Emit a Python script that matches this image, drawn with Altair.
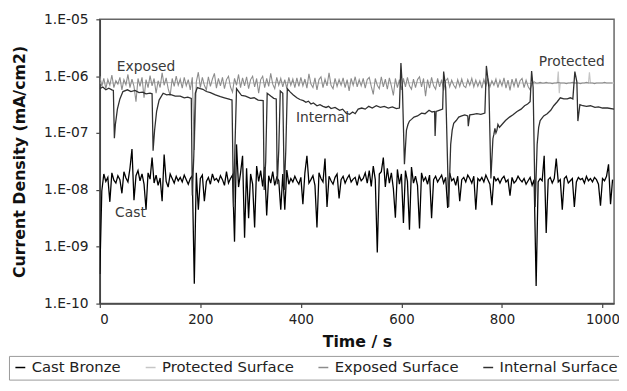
import altair as alt
import pandas as pd

# ---------------- data (log10 of current density, mA/cm2) ----------------
SERIES = ["Cast Bronze", "Protected Surface", "Exposed Surface", "Internal Surface"]
COLORS = ["#000000", "#c6c6c6", "#8c8c8c", "#303030"]
SAMPLE_STEP = 4  # seconds between samples of the two noisy records

cast_log = [
    -9.48, -8.02, -7.72, -7.85, -7.78, -8.21, -7.70, -7.83, -7.88, -7.75,
    -7.82, -8.06, -7.68, -7.79, -7.86, -7.62, -7.28, -8.18, -7.75, -7.66,
    -7.84, -7.72, -7.90, -8.35, -7.70, -7.81, -7.43, -7.88, -7.74, -7.92,
    -7.79, -8.20, -7.38, -7.85, -7.95, -7.72, -7.80, -7.88, -7.76, -7.84,
    -7.78, -7.86, -7.74, -7.82, -7.90, -7.80, -7.75, -9.65, -7.70, -8.35,
    -7.80, -7.74, -8.20, -7.85, -7.78, -7.90, -7.72, -7.83, -7.80, -7.86,
    -7.75, -7.82, -7.92, -7.68, -7.88, -7.80, -7.74, -8.91, -7.20, -7.95,
    -7.70, -7.40, -8.84, -7.62, -8.50, -7.72, -7.90, -8.66, -7.58, -7.85,
    -7.66, -7.94, -7.60, -8.45, -7.75, -7.88, -7.68, -7.92, -7.78, -7.84,
    -8.35, -7.72, -8.35, -7.65, -7.90, -7.80, -7.86, -7.76, -7.84, -7.90,
    -7.78, -8.25, -7.70, -7.40, -7.88, -7.82, -7.75, -7.92, -8.66, -7.70,
    -7.80, -7.86, -7.45, -8.30, -7.76, -7.84, -7.90, -7.78, -7.72, -8.15,
    -7.82, -7.76, -7.88, -7.80, -7.74, -7.86, -7.81, -7.78, -7.92, -7.75,
    -7.84, -7.80, -7.70, -7.88, -7.66, -7.94, -7.58, -7.82, -9.10, -7.72,
    -7.68, -7.43, -7.95, -7.62, -7.88, -7.70, -7.98, -8.49, -7.64, -7.90,
    -7.72, -8.58, -7.66, -7.85, -8.70, -7.60, -7.88, -7.76, -7.92, -8.68,
    -7.70, -7.84, -7.78, -7.90, -7.74, -8.50, -7.82, -7.76, -7.86, -7.80,
    -7.74, -7.88, -7.78, -8.32, -7.70, -7.84, -7.80, -7.92, -7.76, -8.20,
    -7.82, -7.78, -7.86, -7.74, -7.80, -7.88, -7.76, -8.35, -7.80, -7.84,
    -7.78, -7.86, -7.74, -7.82, -7.90, -8.27, -7.76, -7.84, -7.80, -7.88,
    -7.80, -7.76, -7.86, -7.82, -8.10, -7.78, -7.88, -7.84, -7.76, -7.82,
    -7.86, -7.80, -7.90, -7.84, -7.78, -7.92, -7.82, -9.69, -7.86, -7.80,
    -7.84, -7.40, -8.76, -7.82, -7.78, -7.88, -7.80, -7.45, -7.86, -7.82,
    -8.35, -7.80, -7.76, -7.88, -7.84, -7.80, -8.30, -7.86, -7.78, -7.82,
    -7.80, -7.88, -7.76, -7.84, -7.80, -7.86, -7.78, -7.82, -7.90, -8.28,
    -7.80, -7.84, -7.76, -7.55, -8.25, -7.82,
]

exposed_log = [
    -6.00, -6.18, -6.04, -6.22, -6.06, -6.16, -5.98, -6.20, -6.08, -6.14,
    -6.02, -6.24, -6.06, -6.15, -5.97, -6.20, -6.05, -6.18, -6.45, -6.04,
    -6.18, -6.02, -6.38, -6.06, -6.20, -5.99, -6.17, -6.04, -6.30, -6.08,
    -6.20, -5.94, -6.16, -6.03, -6.22, -6.34, -6.04, -6.18, -6.00, -6.16,
    -6.05, -6.21, -6.02, -6.17, -6.06, -6.24, -6.02, -7.30, -6.10, -5.93,
    -6.20, -6.02, -6.16, -6.24, -6.01, -6.18, -6.05, -5.95, -6.21, -6.04,
    -6.17, -6.02, -6.22, -6.06, -6.00, -6.19, -6.28, -6.04, -6.16, -5.97,
    -6.20, -6.03, -6.17, -6.01, -6.22, -6.06, -6.00, -6.19, -6.04, -6.30,
    -6.06, -6.00, -6.20, -6.04, -6.18, -5.95, -6.14, -6.22, -6.02, -6.16,
    -6.04, -6.19, -6.06, -6.22, -6.02, -6.16, -6.05, -6.20, -6.03, -6.18,
    -6.02, -6.17, -6.05, -6.21, -5.96, -6.14, -6.20, -6.03, -6.24, -6.06,
    -6.01, -6.20, -6.05, -6.17, -5.94, -6.16, -6.22, -6.04, -6.18, -6.06,
    -6.16, -6.03, -6.20, -6.06, -6.26, -6.04, -6.16, -6.01, -6.19, -6.06,
    -6.17, -6.04, -6.21, -6.06, -6.02, -6.18, -6.32, -6.04, -6.16, -6.22,
    -6.01, -6.19, -6.05, -6.23, -6.03, -6.17, -6.34, -6.04, -6.20, -6.06,
    -6.24, -6.04, -6.19, -6.02, -6.17, -6.23, -6.05, -6.20, -6.06, -6.01,
    -6.19, -6.04, -6.35, -6.06, -6.21, -6.02, -6.17, -6.23, -6.04, -6.19,
    -6.06, -6.25, -6.08, -6.04, -6.19, -6.07, -6.16, -6.21, -6.06, -6.18,
    -6.05, -6.17, -6.20, -6.06, -6.16, -6.04, -6.19, -6.07, -6.18, -6.08,
    -6.21, -6.06, -6.17, -6.04, -6.19, -6.08, -6.16, -6.05, -6.20, -6.07,
    -6.17, -6.03, -6.21, -6.07, -6.25, -6.05, -6.18, -6.04, -6.20, -6.08,
    -6.04, -6.20, -6.07, -6.18, -6.24, -6.12, -6.10, -6.12, -6.12, -6.11,
    -6.12, -6.12, -6.11, -6.12, -6.12, -6.13, -6.12, -6.12, -6.11, -6.12,
    -6.12, -6.12, -6.13, -6.12, -6.12, -6.11, -6.12, -6.12, -6.12, -6.13,
    -6.12, -6.12, -6.11, -6.12, -6.12, -6.12, -6.13, -6.12, -6.12, -6.12,
    -6.12, -6.11, -6.12, -6.12, -6.12, -6.12,
]

protected_time = [0, 60, 120, 180, 240, 300, 360, 420, 480, 540, 600, 660, 720,
                  780, 840, 870, 900, 910, 912, 914, 916, 940, 972, 974, 976, 1000, 1023]
protected_log = [-6.12, -6.12, -6.11, -6.12, -6.12, -6.12, -6.11, -6.12, -6.12,
                 -6.12, -6.12, -6.11, -6.12, -6.12, -6.12, -6.13, -6.12, -6.12,
                 -5.92, -6.30, -6.12, -6.12, -6.12, -5.93, -6.12, -6.12, -6.12]

internal_pts = [
    (0, -6.22), (6, -6.19), (12, -6.24), (18, -6.21), (24, -6.24), (27, -6.25), (29, -7.09),
    (31, -6.85), (35, -6.58), (40, -6.40), (46, -6.27), (55, -6.24), (62, -6.27), (70, -6.25),
    (78, -6.29), (85, -6.28), (92, -6.31), (100, -6.30), (104, -6.31), (106, -7.31), (109, -6.95),
    (113, -6.62), (118, -6.42), (126, -6.30), (133, -6.33), (140, -6.32), (150, -6.35), (160, -6.35),
    (168, -6.38), (175, -6.37), (182, -6.39), (184, -8.10), (187, -7.40), (190, -6.30), (194, -6.20),
    (200, -6.22), (205, -6.23), (212, -6.27), (220, -6.29), (230, -6.33), (240, -6.36), (248, -6.38),
    (259, -6.41), (263, -6.42), (266, -8.30), (269, -7.20), (272, -6.22), (277, -6.28), (282, -6.34),
    (290, -6.35), (300, -6.39), (307, -6.38), (315, -6.42), (325, -6.43), (327, -8.00), (330, -7.50),
    (333, -6.30), (340, -6.35), (346, -6.39), (351, -6.40), (353, -7.90), (356, -7.30), (359, -6.26),
    (364, -6.30), (367, -8.00), (370, -7.30), (373, -6.22), (379, -6.28), (385, -6.33), (392, -6.38),
    (398, -6.41), (405, -6.43), (410, -6.46), (415, -6.44), (420, -6.49), (425, -6.47), (432, -6.52),
    (438, -6.50), (444, -6.53), (450, -6.55), (455, -6.53), (460, -6.57), (468, -6.55), (477, -6.60),
    (483, -6.58), (490, -6.65), (497, -6.67), (503, -6.63), (508, -6.66), (514, -6.58), (521, -6.56),
    (528, -6.58), (535, -6.53), (542, -6.56), (550, -6.52), (558, -6.55), (566, -6.53), (574, -6.56),
    (582, -6.54), (590, -6.57), (596, -6.56), (599, -5.77), (602, -6.22), (606, -7.55), (610, -6.95),
    (613, -6.85), (616, -6.79), (620, -6.76), (625, -6.72), (632, -6.70), (640, -6.65), (647, -6.66),
    (655, -6.60), (661, -6.63), (666, -6.62), (667, -7.05), (669, -6.62), (675, -6.60), (682, -6.58),
    (684, -5.92), (688, -6.20), (694, -8.30), (698, -7.20), (701, -6.95), (704, -6.83), (709, -6.78),
    (714, -6.72), (720, -6.70), (726, -6.68), (732, -6.70), (733, -6.88), (736, -6.68), (743, -6.67),
    (750, -6.66), (758, -6.67), (766, -6.65), (769, -5.82), (774, -6.20), (778, -7.80), (782, -7.10),
    (784, -7.02), (786, -6.92), (788, -7.00), (790, -6.95), (792, -6.85), (795, -6.90), (800, -6.85),
    (807, -6.78), (815, -6.72), (822, -6.68), (830, -6.62), (838, -6.58), (845, -6.52), (851, -6.49),
    (856, -6.45), (859, -5.91), (862, -6.20), (866, -8.30), (870, -7.20), (873, -6.90), (876, -6.78),
    (883, -6.70), (890, -6.66), (897, -6.60), (903, -6.52), (910, -6.45), (916, -6.38), (923, -6.40),
    (930, -6.40), (936, -6.38), (941, -6.40), (945, -5.92), (949, -6.10), (951, -6.79), (955, -6.50),
    (961, -6.52), (968, -6.53), (976, -6.52), (985, -6.55), (992, -6.54), (1000, -6.56), (1010, -6.56),
    (1023, -6.58),
]

y_ticks = [1e-10, 1e-9, 1e-8, 1e-7, 1e-6, 1e-5]
x_ticks = [0, 200, 400, 600, 800, 1000]

note_text = ["Exposed", "Internal", "Protected", "Cast"]
note_time = [92, 443, 939, 61]
note_log = [-5.84, -6.74, -5.75, -8.40]

# ---------------- tables ----------------
rows = []
for i, v in enumerate(cast_log):
    rows.append({"series": "Cast Bronze", "t": i * SAMPLE_STEP, "j": 10 ** v})
for t, v in zip(protected_time, protected_log):
    rows.append({"series": "Protected Surface", "t": t, "j": 10 ** v})
for i, v in enumerate(exposed_log):
    rows.append({"series": "Exposed Surface", "t": i * SAMPLE_STEP, "j": 10 ** v})
for t, v in internal_pts:
    rows.append({"series": "Internal Surface", "t": t, "j": 10 ** v})
df = pd.DataFrame(rows)

notes = pd.DataFrame({"label": note_text, "t": note_time,
                      "j": [10 ** v for v in note_log]})

FONT = "DejaVu Sans"

x_enc = alt.X(
    "t:Q",
    scale=alt.Scale(domain=[0, 1023], nice=False, zero=False),
    axis=alt.Axis(values=x_ticks, title="Time / s", format="d",
                  tickSize=4, labelPadding=5, titleY=30, labelFontSize=13.5),
)
y_enc = alt.Y(
    "j:Q",
    scale=alt.Scale(type="log", domain=[1e-10, 1e-5], nice=False),
    axis=alt.Axis(
        values=y_ticks,
        labelExpr="'1.E-' + (round(-log(datum.value)/LN10) < 10 ? '0' : '') + round(-log(datum.value)/LN10)",
        title="Current Density (mA/cm2)", tickSize=4, labelPadding=8,
        titleX=-73, titleY=144,
    ),
)
color_enc = alt.Color(
    "series:N",
    scale=alt.Scale(domain=SERIES, range=COLORS),
    legend=alt.Legend(
        title=None, orient="none", direction="horizontal", columns=4,
        legendX=-92, legendY=341, symbolType="stroke", symbolSize=100,
        symbolStrokeWidth=1.5, strokeColor="#999999", fillColor="#ffffff",
        padding=4, columnPadding=21, labelFont=FONT, labelFontSize=15,
        labelColor="#222222", labelLimit=300,
    ),
)

widths = {"Cast Bronze": 1.3, "Protected Surface": 1.2,
          "Exposed Surface": 1.1, "Internal Surface": 1.3}

layers = []
for s in SERIES:
    layers.append(
        alt.Chart(df)
        .transform_filter(alt.datum.series == s)
        .mark_line(strokeWidth=widths[s], clip=True)
        .encode(x=x_enc, y=y_enc, color=color_enc)
    )

text_layer = alt.Chart(notes).mark_text(
    font=FONT, fontSize=14, color="#3a3a3a"
).encode(x=x_enc, y=y_enc, text="label:N")

chart = (
    alt.layer(*layers, text_layer)
    .properties(
        width=521, height=288,
        autosize=alt.AutoSizeParams(type="none"),
        padding={"left": 93, "top": 9, "right": 5, "bottom": 80},
    )
    .configure_view(stroke="#666666", strokeWidth=1.5)
    .configure_axis(
        grid=False, domainColor="#444444", domainWidth=1.5, tickColor="#444444",
        tickWidth=1.2, labelFont=FONT, labelFontSize=14, labelColor="#222222",
        titleFont=FONT, titleFontSize=16, titleFontWeight="bold", titleColor="#111111",
    )
)

chart.save("out.html", embed_options={"renderer": "svg", "actions": False})
